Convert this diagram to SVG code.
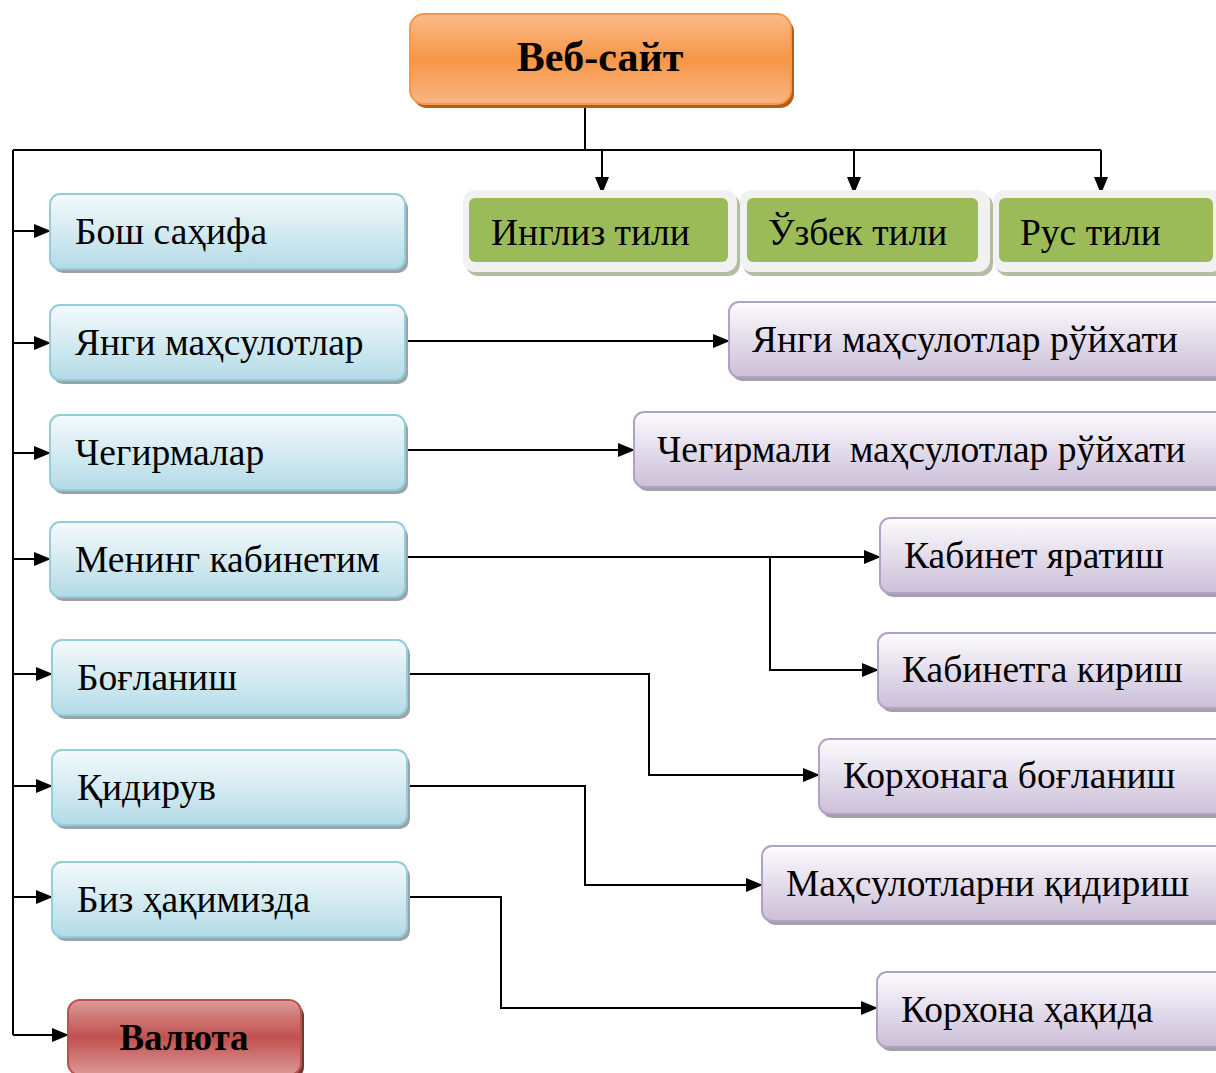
<svg xmlns="http://www.w3.org/2000/svg" width="1216" height="1073" viewBox="0 0 1216 1073">
<defs>
<linearGradient id="gBlue" x1="0" y1="0" x2="0" y2="1"><stop offset="0" stop-color="#f4fafc"/><stop offset="1" stop-color="#b3dbe6"/></linearGradient>
<linearGradient id="gPurple" x1="0" y1="0" x2="0" y2="1"><stop offset="0" stop-color="#fcfbfd"/><stop offset="1" stop-color="#cbbfd9"/></linearGradient>
<linearGradient id="gOrange" x1="0" y1="0" x2="0" y2="1"><stop offset="0" stop-color="#fabb8c"/><stop offset="0.5" stop-color="#f79646"/><stop offset="1" stop-color="#f9b585"/></linearGradient>
<linearGradient id="gRed" x1="0" y1="0" x2="0" y2="1"><stop offset="0" stop-color="#dc9a99"/><stop offset="0.5" stop-color="#c0504d"/><stop offset="1" stop-color="#dc9a99"/></linearGradient>
<marker id="arr" viewBox="0 0 10 10" refX="10" refY="5" markerWidth="17" markerHeight="14" markerUnits="userSpaceOnUse" orient="auto" preserveAspectRatio="none"><path d="M0,0 L10,5 L0,10 z" fill="#000"/></marker>
</defs>
<style>
text{font-family:"Liberation Serif","Times New Roman",serif;font-size:37.5px;fill:#000}
.b{font-weight:bold}
.big{font-size:42px}
.mid{font-size:37px}
.blue{fill:url(#gBlue);stroke:#92cddc;stroke-width:2}
.purple{fill:url(#gPurple);stroke:#b2a1c7;stroke-width:2}
.sh{fill:#9aa3a8}
.shp{fill:#a49fa8}
.c{fill:none;stroke:#000;stroke-width:2}
.ca{fill:none;stroke:#000;stroke-width:2;marker-end:url(#arr)}
</style>
<rect width="1216" height="1073" fill="#fff"/>
<g id="connectors">
<path class="c" d="M585,106 V150"/>
<path class="c" d="M13,150 H1101"/>
<path class="c" d="M13,150 V1035"/>
<path class="ca" d="M602,150 V194"/>
<path class="ca" d="M854,150 V194"/>
<path class="ca" d="M1101,150 V194"/>
<path class="ca" d="M13,231 H51"/>
<path class="ca" d="M13,343 H51"/>
<path class="ca" d="M13,453 H51"/>
<path class="ca" d="M13,559 H51"/>
<path class="ca" d="M13,674 H53"/>
<path class="ca" d="M13,786 H53"/>
<path class="ca" d="M13,897 H53"/>
<path class="ca" d="M13,1035 H69"/>
<path class="ca" d="M405,341 H730"/>
<path class="ca" d="M403,450 H635"/>
<path class="ca" d="M405,557 H881"/>
<path class="ca" d="M770,557 V670 H879"/>
<path class="ca" d="M409,674 H649 V775 H820"/>
<path class="ca" d="M405,786 H585 V885 H763"/>
<path class="ca" d="M405,897 H501 V1008 H878"/>
</g>
<g id="web">
<rect x="413" y="18" width="381" height="90" rx="14" fill="#b55e1a"/>
<rect x="410" y="14" width="381" height="90" rx="14" fill="url(#gOrange)" stroke="#f79646" stroke-width="2"/>
<text x="600" y="71" text-anchor="middle" class="b big">Веб-сайт</text>
</g>
<g id="eng">
<rect x="466" y="194" width="274" height="82" rx="12" fill="#b3bca4"/>
<rect x="463" y="190" width="274" height="82" rx="12" fill="#f1f1f1"/>
<rect x="469" y="198" width="259" height="64" rx="6" fill="#9bbb59"/>
<text x="491" y="245">Инглиз тили</text>
</g>
<g id="uzb">
<rect x="743" y="194" width="250" height="82" rx="12" fill="#b3bca4"/>
<rect x="740" y="190" width="250" height="82" rx="12" fill="#f1f1f1"/>
<rect x="747" y="198" width="231" height="64" rx="6" fill="#9bbb59"/>
<text x="768" y="245">Ўзбек тили</text>
</g>
<g id="rus">
<rect x="996" y="194" width="230" height="82" rx="12" fill="#b3bca4"/>
<rect x="993" y="190" width="230" height="82" rx="12" fill="#f1f1f1"/>
<rect x="999" y="198" width="214" height="64" rx="6" fill="#9bbb59"/>
<text x="1020" y="245">Рус тили</text>
</g>
<g id="home"><rect x="53" y="198" width="355" height="75" rx="10" class="sh"/><rect x="50" y="194" width="355" height="75" rx="10" class="blue"/><text x="75" y="244">Бош саҳифа</text></g>
<g id="new"><rect x="53" y="309" width="355" height="75" rx="10" class="sh"/><rect x="50" y="305" width="355" height="75" rx="10" class="blue"/><text x="75" y="355">Янги маҳсулотлар</text></g>
<g id="disc"><rect x="53" y="419" width="355" height="75" rx="10" class="sh"/><rect x="50" y="415" width="355" height="75" rx="10" class="blue"/><text x="75" y="465">Чегирмалар</text></g>
<g id="cab"><rect x="53" y="526" width="355" height="75" rx="10" class="sh"/><rect x="50" y="522" width="355" height="75" rx="10" class="blue"/><text x="75" y="572">Менинг кабинетим</text></g>
<g id="contact"><rect x="55" y="644" width="355" height="75" rx="10" class="sh"/><rect x="52" y="640" width="355" height="75" rx="10" class="blue"/><text x="77" y="690">Боғланиш</text></g>
<g id="search"><rect x="55" y="754" width="355" height="75" rx="10" class="sh"/><rect x="52" y="750" width="355" height="75" rx="10" class="blue"/><text x="77" y="800">Қидирув</text></g>
<g id="about"><rect x="55" y="866" width="355" height="75" rx="10" class="sh"/><rect x="52" y="862" width="355" height="75" rx="10" class="blue"/><text x="77" y="912">Биз ҳақимизда</text></g>
<g id="currency"><rect x="71" y="1004" width="233" height="75" rx="12" fill="#6e3a38"/><rect x="68" y="1000" width="233" height="75" rx="12" fill="url(#gRed)" stroke="#c0504d" stroke-width="2"/><text x="184" y="1050" text-anchor="middle" class="b mid">Валюта</text></g>
<g id="newlist"><rect x="732" y="306" width="500" height="75" rx="10" class="shp"/><rect x="729" y="302" width="500" height="75" rx="10" class="purple"/><text x="752" y="352">Янги маҳсулотлар рўйхати</text></g>
<g id="disclist"><rect x="637" y="416" width="600" height="75" rx="10" class="shp"/><rect x="634" y="412" width="600" height="75" rx="10" class="purple"/><text x="657" y="462" xml:space="preserve">Чегирмали  маҳсулотлар рўйхати</text></g>
<g id="cabcreate"><rect x="883" y="522" width="350" height="75" rx="10" class="shp"/><rect x="880" y="518" width="350" height="75" rx="10" class="purple"/><text x="904" y="568">Кабинет яратиш</text></g>
<g id="cablogin"><rect x="881" y="637" width="350" height="75" rx="10" class="shp"/><rect x="878" y="633" width="350" height="75" rx="10" class="purple"/><text x="902" y="682">Кабинетга кириш</text></g>
<g id="corpcontact"><rect x="822" y="743" width="420" height="75" rx="10" class="shp"/><rect x="819" y="739" width="420" height="75" rx="10" class="purple"/><text x="843" y="788">Корхонага боғланиш</text></g>
<g id="prodsearch"><rect x="765" y="850" width="470" height="75" rx="10" class="shp"/><rect x="762" y="846" width="470" height="75" rx="10" class="purple"/><text x="786" y="896">Маҳсулотларни қидириш</text></g>
<g id="corpabout"><rect x="880" y="976" width="350" height="75" rx="10" class="shp"/><rect x="877" y="972" width="350" height="75" rx="10" class="purple"/><text x="901" y="1022">Корхона ҳақида</text></g>
</svg>
